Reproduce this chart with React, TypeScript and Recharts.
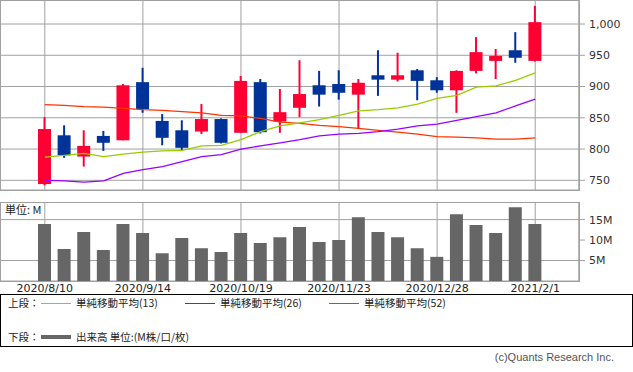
import React from 'react';
import { ComposedChart, Bar, Line, XAxis, YAxis, CartesianGrid } from 'recharts';

const dates = [
  '2020/8/10', '2020/8/17', '2020/8/24', '2020/8/31', '2020/9/7', '2020/9/14', '2020/9/21',
  '2020/9/28', '2020/10/5', '2020/10/12', '2020/10/19', '2020/10/26', '2020/11/2', '2020/11/9',
  '2020/11/16', '2020/11/23', '2020/11/30', '2020/12/7', '2020/12/14', '2020/12/21', '2020/12/28',
  '2021/1/4', '2021/1/11', '2021/1/18', '2021/1/25', '2021/2/1',
];
const opens = [744, 822, 788, 821, 814, 907, 845, 830, 828, 848, 826, 907, 844, 866, 902, 904, 887, 918, 911, 926, 910, 894, 925, 941, 958, 941];
const highs = [851, 838, 830, 829, 904, 930, 856, 846, 872, 849, 917, 912, 896, 942, 925, 926, 912, 958, 954, 928, 915, 926, 979, 960, 987, 1029];
const lows = [742, 786, 772, 797, 814, 858, 806, 798, 824, 809, 826, 825, 826, 851, 868, 879, 832, 885, 908, 878, 890, 858, 921, 912, 938, 940];
const closes = [832, 790, 805, 810, 902, 864, 818, 802, 848, 810, 909, 827, 859, 888, 887, 890, 906, 911, 918, 909, 894, 925, 955, 949, 946, 1003];
const sma13 = [787, 790, 793, 788, 792, 795, 797, 798, 805, 806, 815, 828, 837, 842, 847, 854, 861, 863, 866, 872, 881, 886, 899, 901, 910, 922];
const sma26 = [750, 749, 747, 749, 761, 767, 772, 780, 788, 791, 800, 805, 810, 815, 821, 824, 825, 828, 832, 837, 840, 846, 852, 858, 869, 880];
const sma52 = [871, 870, 868, 867, 865, 863, 862, 860, 858, 854, 853, 849, 843, 841, 838, 836, 833, 830, 827, 824, 820, 819, 818, 816, 816, 818];
const volumes = [13.9, 7.8, 12.0, 7.6, 13.9, 11.7, 6.8, 10.5, 8.0, 7.1, 11.7, 9.3, 10.7, 13.2, 9.5, 10.0, 15.6, 12.0, 10.7, 8.0, 5.9, 16.3, 13.7, 11.7, 18.0, 13.9];
const priceTicks = [750, 800, 850, 900, 950, 1000];
const volumeTicks = [5, 10, 15];

const data = dates.map((d, i) => ({
  date: d,
  open: opens[i],
  high: highs[i],
  low: lows[i],
  close: closes[i],
  range: [lows[i], highs[i]],
  sma13: sma13[i],
  sma26: sma26[i],
  sma52: sma52[i],
  volume: volumes[i],
}));

const UP = '#ff0033';
const DOWN = '#003399';
const GRID = '#a0a0a0';
const FONT = "'DejaVu Sans', sans-serif";
const JFONT = "'Noto Sans CJK JP', sans-serif";

const Candle = (props: any) => {
  const { x, y, width, height, payload } = props;
  if (!payload) return null;
  const { open, close, high, low } = payload;
  const top = Math.min(y, y + height);
  const h = Math.abs(height);
  const ratio = h / (high - low || 1);
  const yOf = (v: number) => top + (high - v) * ratio;
  const color = close >= open ? UP : DOWN;
  const bTop = yOf(Math.max(open, close));
  const bBot = yOf(Math.min(open, close));
  const cx = x + width / 2;
  return (
    <g>
      <line x1={cx} x2={cx} y1={top} y2={top + h} stroke={color} strokeWidth={2} />
      <rect x={x} y={bTop} width={width} height={Math.max(1, bBot - bTop)} fill={color} />
    </g>
  );
};

const tickStyle = { fontSize: 11, fill: '#333', fontFamily: FONT };
const noDot = () => null;

export default function App() {
  return (
    <div style={{ position: 'fixed', left: 0, top: 0, width: 633, height: 372, background: '#fff', overflow: 'hidden' }}>
      <div style={{ position: 'absolute', left: 0, top: 0 }}>
        <ComposedChart width={633} height={190} data={data} margin={{ top: 0, right: 0, bottom: 0, left: 0 }}>
          <CartesianGrid stroke={GRID} />
          <XAxis dataKey="date" hide padding={{ left: 35, right: 34 }} interval={4} />
          <YAxis
            orientation="right"
            width={54}
            domain={[734.5, 1038.4]}
            ticks={priceTicks}
            allowDataOverflow
            tickFormatter={(v: number) => v.toLocaleString('en-US')}
            tickSize={6}
            tickMargin={4}
            axisLine={{ stroke: GRID }}
            tickLine={{ stroke: GRID }}
            tick={tickStyle}
          />
          <Bar dataKey="range" barSize={13} shape={Candle} isAnimationActive={false} />
          <Line dataKey="sma52" stroke="#ff3300" strokeWidth={1.3} dot={noDot} activeDot={false} isAnimationActive={false} />
          <Line dataKey="sma26" stroke="#9900ff" strokeWidth={1.3} dot={noDot} activeDot={false} isAnimationActive={false} />
          <Line dataKey="sma13" stroke="#99cc00" strokeWidth={1.3} dot={noDot} activeDot={false} isAnimationActive={false} />
        </ComposedChart>
      </div>
      <div style={{ position: 'absolute', left: 0, top: 0, width: 580, height: 191, border: `1px solid ${GRID}`, boxSizing: 'border-box', pointerEvents: 'none' }} />

      <div style={{ position: 'absolute', left: 0, top: 202 }}>
        <ComposedChart width={633} height={93} data={data} margin={{ top: 0, right: 0, bottom: 0, left: 0 }}>
          <CartesianGrid stroke={GRID} />
          <XAxis
            dataKey="date"
            padding={{ left: 35, right: 34 }}
            interval={4}
            tickLine={false}
            axisLine={false}
            tickSize={0}
            tickMargin={3}
            height={14}
            tick={{ fontSize: 11, fill: '#222', fontFamily: FONT }}
          />
          <YAxis
            orientation="right"
            width={54}
            domain={[0, 19.3]}
            ticks={volumeTicks}
            allowDataOverflow
            tickFormatter={(v: number) => `${v}M`}
            tickSize={6}
            tickMargin={4}
            axisLine={{ stroke: GRID }}
            tickLine={{ stroke: GRID }}
            tick={tickStyle}
          />
          <Bar dataKey="volume" fill="#666666" barSize={13} isAnimationActive={false} />
        </ComposedChart>
      </div>
      <div style={{ position: 'absolute', left: 0, top: 202, width: 580, height: 80, border: `1px solid ${GRID}`, boxSizing: 'border-box', pointerEvents: 'none' }} />
      <div style={{ position: 'absolute', left: 5, top: 202, fontSize: 11, fontFamily: JFONT, color: '#222', lineHeight: '15px' }}>単位: M</div>

      <div style={{ position: 'absolute', left: 0, top: 294, width: 633, height: 53, border: '1px solid #000', boxSizing: 'border-box', fontFamily: JFONT, fontSize: 10.5, color: '#222' }}>
        <div style={{ position: 'absolute', left: 7, top: 0, lineHeight: '16px', whiteSpace: 'nowrap' }}>上段：</div>
        <div style={{ position: 'absolute', left: 40, top: 8, width: 30, height: 0, borderTop: '1px solid #99cc00' }} />
        <div style={{ position: 'absolute', left: 75, top: 0, lineHeight: '16px', whiteSpace: 'nowrap' }}>単純移動平均(13)</div>
        <div style={{ position: 'absolute', left: 184, top: 8, width: 30, height: 0, borderTop: '1px solid #9900ff' }} />
        <div style={{ position: 'absolute', left: 219, top: 0, lineHeight: '16px', whiteSpace: 'nowrap' }}>単純移動平均(26)</div>
        <div style={{ position: 'absolute', left: 328, top: 8, width: 30, height: 0, borderTop: '1px solid #ff3300' }} />
        <div style={{ position: 'absolute', left: 363, top: 0, lineHeight: '16px', whiteSpace: 'nowrap' }}>単純移動平均(52)</div>
        <div style={{ position: 'absolute', left: 7, top: 34, lineHeight: '16px', whiteSpace: 'nowrap' }}>下段：</div>
        <div style={{ position: 'absolute', left: 40, top: 40, width: 30, height: 4, background: '#666666' }} />
        <div style={{ position: 'absolute', left: 75, top: 34, lineHeight: '16px', whiteSpace: 'nowrap' }}>出来高 単位:(M株/口/枚)</div>
      </div>
      <div style={{ position: 'absolute', right: 19, top: 350, fontSize: 11, fontFamily: "'Liberation Sans', sans-serif", color: '#555', lineHeight: '14px', whiteSpace: 'nowrap' }}>(c)Quants Research Inc.</div>
    </div>
  );
}
